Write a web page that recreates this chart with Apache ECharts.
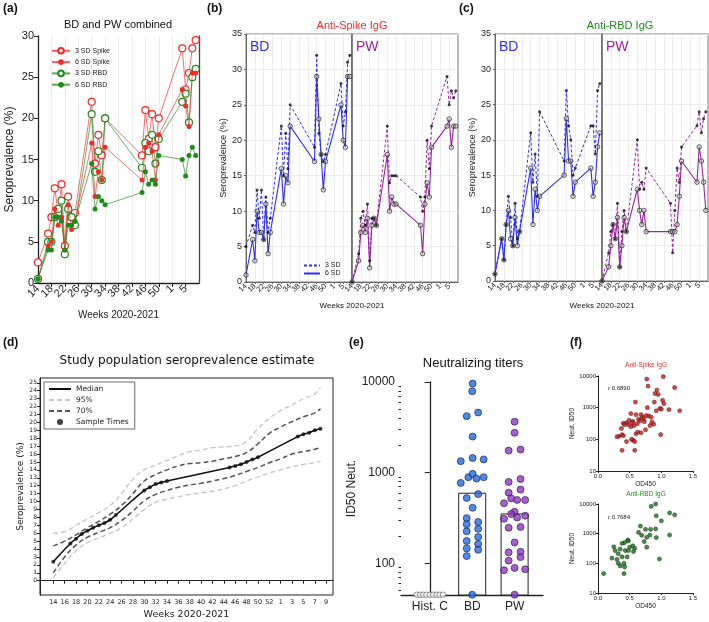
<!DOCTYPE html>
<html><head><meta charset="utf-8">
<script src="https://cdn.jsdelivr.net/npm/echarts@6.0.0/dist/echarts.min.js"></script>
<style>html,body{margin:0;padding:0;background:#fff;}#c{width:709px;height:622px;}</style>
</head><body><div id="c"></div>
<script>
// ---------------- data ----------------
const weeks = [14,17,18,19,20,21,22,23,24,25,30,31,32,33,34,45,46,47,48,49,50,57,58,59,60,61];
const xTickWeeks = [14,18,22,26,30,34,38,42,46,50,54,58];
// (a) BD and PW combined
const spike3A = [2.5,6,8,11.5,8.5,12,4.5,10.5,8,8.5,22,14.5,18,15.5,20,15.5,21,17.5,20.5,16.5,20,28.5,23.5,25.5,28.5,29.5];
const spike6A = [0.5,4.5,5,9,7,8,4,9.5,6.5,7.5,17,10.5,13.5,12.5,16.5,12.5,16.5,17,16,12.5,18,23.5,21.5,19,25.5,25.5];
const rbd3A   = [0.5,5,5,8,9,10,3.5,9,8,7,20.5,13.5,16,12.5,20,14,17,16,18,14.5,17.5,22,23,19.5,25,26];
const rbd6A   = [0.5,4,4,8,8,7.5,4,7,7,7.5,14.5,9,10.5,10,9.5,11,13.5,12,12.5,12,15.5,15,13,15.5,16.5,15.5];
// (b) Anti-Spike IgG
const bdSpike3 = [5,8,7,13,9,13,6,12,7,9,22,15,21,16,25,19,32,21,18,17,18,28,22,24,31,32];
const bdSpike6 = [1,6,3,10,7,7,6,11,4,7,16,11,15,14,22,17,29,23,18,13,17,25,20,19,29,29];
const pwSpike3 = [0,4,9,10,8,11,3,9,9,8,22,14,15,15,15,12,10,12,20,16,22,29,25,27,26,27];
const pwSpike6 = [0,3,7,8,7,9,2,8,9,8,18,10,12,11,11,8,4,11,14,12,19,22,23,19,22,22];
// (c) Anti-RBD IgG
const bdRbd3 = [1,6,3,8,12,9,5,11,6,7,21,14,18,12,24,17,27,22,20,15,16,22,22,18,27,28];
const bdRbd6 = [1,6,3,8,10,6,5,9,5,7,16,8,13,10,12,15,23,17,17,12,14,16,12,14,19,21];
const pwRbd3 = [0,4,7,8,6,11,2,7,10,7,20,13,14,13,16,11,4,10,16,14,19,22,24,21,23,24];
const pwRbd6 = [0,2,5,8,6,9,2,5,9,7,13,10,8,10,7,7,7,7,8,12,17,14,19,17,14,10];
// (d) population estimate
const medianD = [2.4,4.7,5.3,5.9,6.3,6.7,7.0,7.3,7.7,8.3,11.4,11.8,12.2,12.4,12.6,14.3,14.5,14.7,15.0,15.3,15.6,18.2,18.5,18.7,19.0,19.2];
const bandWeeks = [14,16,18,20,22,24,26,28,30,32,34,36,38,40,42,44,46,48,50,52,54,56,58,60,61];
const up95 = [6.0,6.2,7.0,7.8,8.6,9.5,11.0,12.8,14.0,14.6,15.2,15.8,16.3,16.5,16.8,16.9,17.0,17.6,19.2,20.5,21.5,22.2,23.0,23.6,24.4];
const up70 = [4.4,5.0,5.8,6.7,7.5,8.4,9.5,11.0,12.6,13.4,14.0,14.5,14.8,14.9,15.1,15.4,15.7,16.2,17.3,18.6,19.4,20.1,20.7,21.2,21.7];
const lo70 = [1.0,3.0,4.5,5.5,6.1,6.7,7.6,8.8,10.1,10.9,11.4,11.8,12.1,12.3,12.6,12.9,13.3,13.8,14.3,14.9,15.4,16.0,16.3,16.6,16.8];
const lo95 = [0.4,2.2,3.8,4.8,5.4,6.0,6.7,7.8,9.0,9.9,10.3,10.6,10.9,11.1,11.3,11.6,12.0,12.6,13.1,13.6,14.0,14.4,14.7,14.9,15.1];
const dWeekTicks = [14,16,18,20,22,24,26,28,30,32,34,36,38,40,42,44,46,48,50,52,54,56,58,60,62];
const dYTicks = [0,1,2,3,4,5,6,7,8,9,10,11,12,13,14,15,16,17,18,19,20,21,22,23,24,25];
// (e) neutralizing titers
const eCats = ['Hist. C','BD','PW'];
const eBars = [600, 355];
const histC = [45,45,45,45,45,45,45,45,45];
const histCOff = [-0.31,-0.23,-0.16,-0.08,0,0.08,0.16,0.23,0.31];
const bdTiter = [9600,7900,4200,4600,2500,1340,1450,1400,770,890,970,860,890,580,525,410,315,285,270,240,225,195,176,163,146,141,120,45];
const bdOff   = [0.01,0,-0.13,0.14,0.01,-0.27,0.01,0.27,-0.27,-0.09,0.01,0.10,0.27,0.14,-0.13,0.01,-0.13,0.14,-0.13,0.14,-0.13,0.14,-0.13,0.14,-0.13,0.14,-0.13,0];
const pwTiter = [3650,2750,1800,1750,850,790,650,600,520,500,500,460,370,350,335,320,310,247,252,170,132,134,107,117,89,84,86,45];
const pwOff   = [0,0,0.14,-0.14,0.14,-0.14,0.14,-0.14,-0.08,0.06,0.25,-0.25,0,-0.08,0.25,0.06,-0.25,-0.14,0.14,0,-0.14,0.14,-0.14,0.14,0,-0.25,0.25,0];
// (f) correlations [OD450, Neut. ID50]
const spikePts = [[0.77,8000],[0.79,4800],[1.03,9500],[1.21,4300],[0.93,3600],[0.90,2800],[0.95,2600],[1.02,1700],[0.89,1500],[0.59,1500],[1.04,1350],[0.78,1000],[0.98,950],[1.00,900],[0.92,800],[1.12,870],[1.29,800],[0.80,550],[0.84,500],[0.76,560],[0.68,600],[0.70,500],[0.60,600],[0.52,650],[0.49,400],[0.55,370],[0.45,330],[0.40,320],[0.64,430],[0.66,380],[0.62,310],[0.72,440],[0.73,360],[0.85,350],[0.88,300],[0.82,270],[0.57,270],[0.52,250],[0.48,290],[0.37,220],[0.33,125],[0.30,120],[0.38,140],[0.40,130],[0.45,85],[0.55,95],[0.53,100],[0.60,150],[0.63,170],[0.68,160],[0.75,200],[0.58,85],[0.38,45],[0.58,45],[0.99,140],[0.54,330],[0.42,290]];
const rbdPts = [[0.84,8300],[0.91,10000],[0.92,4000],[1.13,5000],[1.21,4300],[1.00,2700],[0.67,1800],[0.75,1400],[0.83,1400],[0.64,1100],[0.91,1450],[1.13,900],[0.82,900],[0.69,880],[0.77,750],[0.92,740],[0.73,540],[0.77,350],[0.47,610],[0.42,500],[0.38,470],[0.48,570],[0.55,390],[0.58,320],[0.50,350],[0.25,360],[0.27,270],[0.35,300],[0.43,270],[0.48,270],[0.32,210],[0.22,150],[0.30,135],[0.38,165],[0.41,100],[0.32,100],[0.35,82],[0.42,76],[0.97,140],[0.09,45],[0.41,45],[0.46,165],[0.56,250]];

// ---------------- helpers ----------------
const FF = "'Liberation Sans', Arial, Helvetica, sans-serif";
const FD = "'DejaVu Sans', sans-serif";
const RED = '#F22A2A', GREEN = '#1C8C1C', BLUE = '#2F2FF5', PURPLE = '#9A249E';
const wkFmt = v => String(v > 53 ? v - 53 : v);
const pairs = arr => weeks.map((w, i) => [w, arr[i]]);
const lg = v => Math.log10(v);
const NOSYM = { opacity: 0 };
// first entry is a blank placeholder so every real week label is kept
const labelVals = [14].concat(xTickWeeks.map(v => v + 0.001));
const labelFmt = v => Number.isInteger(v) ? '' : wkFmt(Math.round(v));

function lineA(name, arr, color, filled) {
  return { type: 'line', name, xAxisIndex: 0, yAxisIndex: 0, data: pairs(arr), color,
    symbol: 'circle', symbolSize: filled ? 5 : 7, z: filled ? 4 : 3,
    lineStyle: { color, width: 0.9, opacity: 0.75 },
    itemStyle: { color: filled ? color : '#fff', borderColor: color, borderWidth: filled ? 0 : 1.2 } };
}
function subSeries(xi, yi, d3, d6, color, n3, n6) {
  return [
    { type: 'line', name: n3, xAxisIndex: xi, yAxisIndex: yi, data: pairs(d3), symbol: 'none', color,
      lineStyle: { color, width: 1, type: [3, 2] } },
    { type: 'line', name: n6, xAxisIndex: xi, yAxisIndex: yi, data: pairs(d6), symbol: 'none', color,
      lineStyle: { color, width: 1.1 } },
    { type: 'scatter', xAxisIndex: xi, yAxisIndex: yi, data: pairs(d6), symbolSize: 4.5, z: 5,
      itemStyle: { color: 'rgba(190,190,190,0.6)', borderColor: '#111', borderWidth: 0.8 } },
    { type: 'scatter', xAxisIndex: xi, yAxisIndex: yi, data: pairs(d3), symbolSize: 3, z: 6,
      itemStyle: { color: '#111' } }
  ];
}
function subX(gi) {
  return { type: 'value', gridIndex: gi, min: 14, max: 61.99, interval: 4,
    axisLine: { show: true, lineStyle: { color: '#666' } },
    axisTick: { show: true, length: 2, customValues: xTickWeeks, lineStyle: { color: '#666' } },
    axisLabel: { fontSize: 7.5, rotate: 45, margin: 3, color: '#222', formatter: labelFmt, fontFamily: FF,
      customValues: labelVals, showMinLabel: false, hideOverlap: false },
    splitLine: { show: true, lineStyle: { color: '#e8e8e8', width: 0.8 } } };
}
function subY(gi, withLabels) {
  return { type: 'value', gridIndex: gi, min: 0, max: 35, interval: 5,
    name: withLabels ? 'Seroprevalence (%)' : '', nameLocation: 'middle', nameGap: 17,
    nameTextStyle: { fontSize: 9, color: '#222', fontFamily: FF },
    axisLine: { show: true, lineStyle: { color: '#666', width: withLabels ? 1 : 1.5 } },
    axisTick: { show: withLabels, length: 2, lineStyle: { color: '#666' } },
    axisLabel: { show: withLabels, fontSize: 9, margin: 4, color: '#222', fontFamily: FF },
    splitLine: { show: true, lineStyle: { color: '#e8e8e8', width: 0.8 } } };
}
const minorTicks = [];
[1, 2, 3].forEach(p => { for (let k = 2; k <= 9; k++) { const v = k * Math.pow(10, p); if (v >= 45) minorTicks.push(lg(v)); } });

const T = (text, left, top, size, opt) => Object.assign({ text, left, top, padding: 0,
  textStyle: Object.assign({ fontSize: size, fontWeight: 'normal', color: '#111', fontFamily: FF }, (opt && opt.ts) || {}) },
  (opt && opt.o) || {});

const option = {
  animation: false,
  backgroundColor: '#fff',
  title: [
    T('(a)', 3, 3, 12, { ts: { fontWeight: 'bold' } }),
    T('BD and PW combined', 118, 19, 11, { o: { textAlign: 'center' } }),
    T('(b)', 207, 3, 12, { ts: { fontWeight: 'bold' } }),
    T('Anti-Spike IgG', 352, 20, 11, { o: { textAlign: 'center' }, ts: { color: RED } }),
    T('BD', 250, 40, 14, { ts: { color: BLUE } }),
    T('PW', 356, 40, 14, { ts: { color: PURPLE } }),
    T('Weeks 2020-2021', 352, 302, 8, { o: { textAlign: 'center' } }),
    T('(c)', 459, 3, 12, { ts: { fontWeight: 'bold' } }),
    T('Anti-RBD IgG', 620, 20, 11, { o: { textAlign: 'center' }, ts: { color: GREEN } }),
    T('BD', 499, 40, 14, { ts: { color: BLUE } }),
    T('PW', 606, 40, 14, { ts: { color: PURPLE } }),
    T('Weeks 2020-2021', 602, 302, 8, { o: { textAlign: 'center' } }),
    T('(d)', 3, 337, 12, { ts: { fontWeight: 'bold' } }),
    T('Study population seroprevalence estimate', 187, 355, 12, { o: { textAlign: 'center' }, ts: { fontFamily: FD } }),
    T('(e)', 349, 337, 12, { ts: { fontWeight: 'bold' } }),
    T('Neutralizing titers', 473, 357, 13, { o: { textAlign: 'center' } }),
    T('(f)', 570, 337, 12, { ts: { fontWeight: 'bold' } }),
    T('Anti-Spike IgG', 646, 362, 6.5, { o: { textAlign: 'center' }, ts: { color: RED } }),
    T('Anti-RBD IgG', 646, 491, 6.5, { o: { textAlign: 'center' }, ts: { color: GREEN } })
  ],
  graphic: [
    { type: 'text', left: 608, top: 385, style: { text: '{i|r} 0.6890', fontSize: 6, fill: '#222', fontFamily: FF, rich: { i: { fontStyle: 'italic', fontSize: 6 } } } },
    { type: 'text', left: 608, top: 514, style: { text: '{i|r} 0.7684', fontSize: 6, fill: '#222', fontFamily: FF, rich: { i: { fontStyle: 'italic', fontSize: 6 } } } }
  ],
  legend: [
    { left: 46, top: 42, orient: 'vertical', itemGap: 4, itemWidth: 18, itemHeight: 7,
      textStyle: { fontSize: 7, color: '#222', fontFamily: FF },
      data: ['3 SD Spike', '6 SD Spike', '3 SD RBD', '6 SD RBD'] },
    { left: 298, top: 257, orient: 'vertical', itemGap: 1, itemWidth: 16, itemHeight: 6,
      textStyle: { fontSize: 7, color: '#222', fontFamily: FF },
      data: [{ name: '3 SD', itemStyle: NOSYM }, { name: '6 SD', itemStyle: NOSYM }] },
    { left: 44, top: 382, orient: 'vertical', itemGap: 3, itemWidth: 22, itemHeight: 6,
      borderColor: '#444', borderWidth: 0.8, padding: [3, 6, 3, 4],
      textStyle: { fontSize: 7.5, color: '#222', fontFamily: FD },
      data: [{ name: 'Median', itemStyle: NOSYM }, { name: '95%', itemStyle: NOSYM }, { name: '70%', itemStyle: NOSYM }, 'Sample Times'] }
  ],
  grid: [
    { left: 38, top: 36, width: 161, height: 247 },
    { left: 246, top: 34, width: 106, height: 248, show: true, borderColor: '#777', borderWidth: 1 },
    { left: 352, top: 34, width: 106, height: 248, show: true, borderColor: '#777', borderWidth: 1 },
    { left: 495, top: 34, width: 107, height: 247, show: true, borderColor: '#777', borderWidth: 1 },
    { left: 602, top: 34, width: 106, height: 247, show: true, borderColor: '#777', borderWidth: 1 },
    { left: 40, top: 378, width: 293, height: 217, show: true, borderColor: '#222', borderWidth: 1 },
    { left: 401, top: 382, width: 142, height: 213 },
    { left: 598, top: 376, width: 95, height: 95 },
    { left: 598, top: 504, width: 95, height: 89 }
  ],
  xAxis: [
    { type: 'value', gridIndex: 0, min: 14, max: 61.99, interval: 4,
      name: 'Weeks 2020-2021', nameLocation: 'middle', nameGap: 27,
      nameTextStyle: { fontSize: 10, color: '#222', fontFamily: FF },
      axisLine: { lineStyle: { color: '#222', width: 1.3 } },
      axisTick: { length: 4, customValues: xTickWeeks, lineStyle: { color: '#222' } },
      axisLabel: { fontSize: 11, rotate: 45, margin: 4, color: '#222', formatter: labelFmt, fontFamily: FF,
        customValues: labelVals, showMinLabel: false, hideOverlap: false },
      splitLine: { show: true, lineStyle: { color: '#e6e6e6', width: 0.8 } } },
    subX(1), subX(2), subX(3), subX(4),
    { type: 'value', gridIndex: 5, min: 11.66, max: 63.2,
      name: 'Weeks 2020-2021', nameLocation: 'middle', nameGap: 15,
      nameTextStyle: { fontSize: 9.5, color: '#222', fontFamily: FD },
      axisLine: { lineStyle: { color: '#222' } },
      axisTick: { length: 3, customValues: dWeekTicks, lineStyle: { color: '#222' } },
      axisLabel: { fontSize: 6.5, margin: 4, color: '#222', formatter: wkFmt, fontFamily: FD, customValues: dWeekTicks },
      splitLine: { show: false } },
    { type: 'value', gridIndex: 6, min: -0.68, max: 2.67,
      axisLine: { lineStyle: { color: '#222', width: 1.3 } },
      axisTick: { show: false },
      axisLabel: { fontSize: 12, margin: 6, color: '#222', fontFamily: FF, customValues: [0, 1, 2], formatter: v => eCats[Math.round(v)] },
      splitLine: { show: false } },
    { type: 'value', gridIndex: 7, min: 0, max: 1.5, interval: 0.5,
      name: 'OD450', nameLocation: 'middle', nameGap: 10,
      nameTextStyle: { fontSize: 6.5, color: '#222', fontFamily: FF },
      axisLine: { lineStyle: { color: '#222' } }, axisTick: { length: 2 },
      axisLabel: { fontSize: 6, margin: 2, color: '#222', formatter: v => v.toFixed(1), fontFamily: FF },
      splitLine: { show: false } },
    { type: 'value', gridIndex: 8, min: 0, max: 1.5, interval: 0.5,
      name: 'OD450', nameLocation: 'middle', nameGap: 10,
      nameTextStyle: { fontSize: 6.5, color: '#222', fontFamily: FF },
      axisLine: { lineStyle: { color: '#222' } }, axisTick: { length: 2 },
      axisLabel: { fontSize: 6, margin: 2, color: '#222', formatter: v => v.toFixed(1), fontFamily: FF },
      splitLine: { show: false } }
  ],
  yAxis: [
    { type: 'value', gridIndex: 0, min: 0, max: 30, interval: 5,
      name: 'Seroprevalence (%)', nameLocation: 'middle', nameGap: 22,
      nameTextStyle: { fontSize: 12, color: '#222', fontFamily: FF },
      axisLine: { show: true, lineStyle: { color: '#222', width: 1.3 } },
      axisTick: { show: true, length: 4, lineStyle: { color: '#222' } },
      axisLabel: { fontSize: 11, margin: 4, color: '#222', fontFamily: FF },
      splitLine: { show: false } },
    { type: 'value', gridIndex: 0, min: 0, max: 30, position: 'right',
      axisLine: { show: true, lineStyle: { color: '#444', width: 1.3 } },
      axisTick: { show: false }, axisLabel: { show: false }, splitLine: { show: false } },
    subY(1, true), subY(2, false), subY(3, true), subY(4, false),
    { type: 'value', gridIndex: 5, min: -1.8, max: 25.6,
      name: 'Seroprevalence (%)', nameLocation: 'middle', nameGap: 14,
      nameTextStyle: { fontSize: 9, color: '#222', fontFamily: FD },
      axisLine: { show: true, lineStyle: { color: '#222' } },
      axisTick: { show: true, length: 3, customValues: dYTicks, lineStyle: { color: '#222' } },
      axisLabel: { fontSize: 6, margin: 3, color: '#222', fontFamily: FD, customValues: dYTicks },
      splitLine: { show: false } },
    { type: 'value', gridIndex: 6, min: lg(44.7), max: 4,
      name: 'ID50 Neut.', nameLocation: 'middle', nameGap: 40,
      nameTextStyle: { fontSize: 12, color: '#222', fontFamily: FF },
      axisLine: { show: true, lineStyle: { color: '#222', width: 1.3 } },
      axisTick: { show: true, length: 5, customValues: [2, 3, 4], lineStyle: { color: '#222' } },
      axisLabel: { fontSize: 12, margin: 6, color: '#222', fontFamily: FF, customValues: [2, 3, 4],
        formatter: v => String(Math.round(Math.pow(10, v))) },
      splitLine: { show: false } },
    { type: 'value', gridIndex: 6, min: lg(44.7), max: 4, position: 'left', offset: 0,
      axisLine: { show: false }, axisLabel: { show: false },
      axisTick: { show: true, length: 2.5, customValues: minorTicks, lineStyle: { color: '#222' } },
      splitLine: { show: false } },
    { type: 'log', logBase: 10, gridIndex: 7, min: 10, max: 10000,
      name: 'Neut. ID50', nameLocation: 'middle', nameGap: 19,
      nameTextStyle: { fontSize: 6.5, color: '#222', fontFamily: FF },
      axisLine: { show: true, lineStyle: { color: '#222' } }, axisTick: { show: true, length: 2 },
      axisLabel: { fontSize: 6, margin: 2, color: '#222', fontFamily: FF, formatter: v => String(v) },
      splitLine: { show: false } },
    { type: 'log', logBase: 10, gridIndex: 8, min: 10, max: 10000,
      name: 'Neut. ID50', nameLocation: 'middle', nameGap: 19,
      nameTextStyle: { fontSize: 6.5, color: '#222', fontFamily: FF },
      axisLine: { show: true, lineStyle: { color: '#222' } }, axisTick: { show: true, length: 2 },
      axisLabel: { fontSize: 6, margin: 2, color: '#222', fontFamily: FF, formatter: v => String(v) },
      splitLine: { show: false } }
  ],
  series: [
    lineA('3 SD Spike', spike3A, RED, false),
    lineA('6 SD Spike', spike6A, RED, true),
    lineA('3 SD RBD', rbd3A, GREEN, false),
    lineA('6 SD RBD', rbd6A, GREEN, true),
    ...subSeries(1, 2, bdSpike3, bdSpike6, BLUE, '3 SD', '6 SD'),
    ...subSeries(2, 3, pwSpike3, pwSpike6, PURPLE, 'pwS3', 'pwS6'),
    ...subSeries(3, 4, bdRbd3, bdRbd6, BLUE, 'bdR3', 'bdR6'),
    ...subSeries(4, 5, pwRbd3, pwRbd6, PURPLE, 'pwR3', 'pwR6'),
    // (d)
    { type: 'line', name: '95%', xAxisIndex: 5, yAxisIndex: 6, data: bandWeeks.map((w, i) => [w, up95[i]]),
      smooth: true, symbol: 'none', color: '#c4c4c4', lineStyle: { color: '#c4c4c4', width: 1.3, type: [5, 3] } },
    { type: 'line', name: '95%', xAxisIndex: 5, yAxisIndex: 6, data: bandWeeks.map((w, i) => [w, lo95[i]]),
      smooth: true, symbol: 'none', color: '#c4c4c4', lineStyle: { color: '#c4c4c4', width: 1.3, type: [5, 3] } },
    { type: 'line', name: '70%', xAxisIndex: 5, yAxisIndex: 6, data: bandWeeks.map((w, i) => [w, up70[i]]),
      smooth: true, symbol: 'none', color: '#555', lineStyle: { color: '#555', width: 1.5, type: [5, 3] } },
    { type: 'line', name: '70%', xAxisIndex: 5, yAxisIndex: 6, data: bandWeeks.map((w, i) => [w, lo70[i]]),
      smooth: true, symbol: 'none', color: '#555', lineStyle: { color: '#555', width: 1.5, type: [5, 3] } },
    { type: 'line', name: 'Median', xAxisIndex: 5, yAxisIndex: 6, data: pairs(medianD),
      smooth: true, symbol: 'none', color: '#111', lineStyle: { color: '#111', width: 1.6 } },
    { type: 'scatter', name: 'Sample Times', xAxisIndex: 5, yAxisIndex: 6, data: pairs(medianD),
      symbolSize: 4, itemStyle: { color: '#111' }, z: 5 },
    // (e)
    { type: 'bar', xAxisIndex: 6, yAxisIndex: 7, data: [[1, lg(eBars[0])], [2, lg(eBars[1])]], barWidth: 28,
      itemStyle: { color: '#fff', borderColor: '#222', borderWidth: 1 } },
    { type: 'scatter', xAxisIndex: 6, yAxisIndex: 7, data: histC.map((v, i) => [histCOff[i], lg(v)]),
      symbolSize: 5.5, itemStyle: { color: '#fff', borderColor: '#555', borderWidth: 0.8 }, z: 5 },
    { type: 'scatter', xAxisIndex: 6, yAxisIndex: 7, data: bdTiter.map((v, i) => [1 + bdOff[i], lg(v)]),
      symbolSize: 7, itemStyle: { color: '#1F6BE6', borderColor: '#1a1a3a', borderWidth: 0.8 }, z: 5 },
    { type: 'scatter', xAxisIndex: 6, yAxisIndex: 7, data: pwTiter.map((v, i) => [2 + pwOff[i], lg(v)]),
      symbolSize: 7, itemStyle: { color: '#8E34C6', borderColor: '#2a1a3a', borderWidth: 0.8 }, z: 5 },
    // (f)
    { type: 'scatter', xAxisIndex: 7, yAxisIndex: 9, data: spikePts, symbolSize: 4.2,
      itemStyle: { color: '#C81E1E', borderColor: '#3a0a0a', borderWidth: 0.5 } },
    { type: 'scatter', xAxisIndex: 8, yAxisIndex: 10, data: rbdPts, symbolSize: 4.2,
      itemStyle: { color: '#1E6E1E', borderColor: '#0a2a0a', borderWidth: 0.5 } }
  ]
};
const chart = echarts.init(document.getElementById('c'), null, { renderer: 'canvas', width: 709, height: 622 });
chart.setOption(option);
</script></body></html>
